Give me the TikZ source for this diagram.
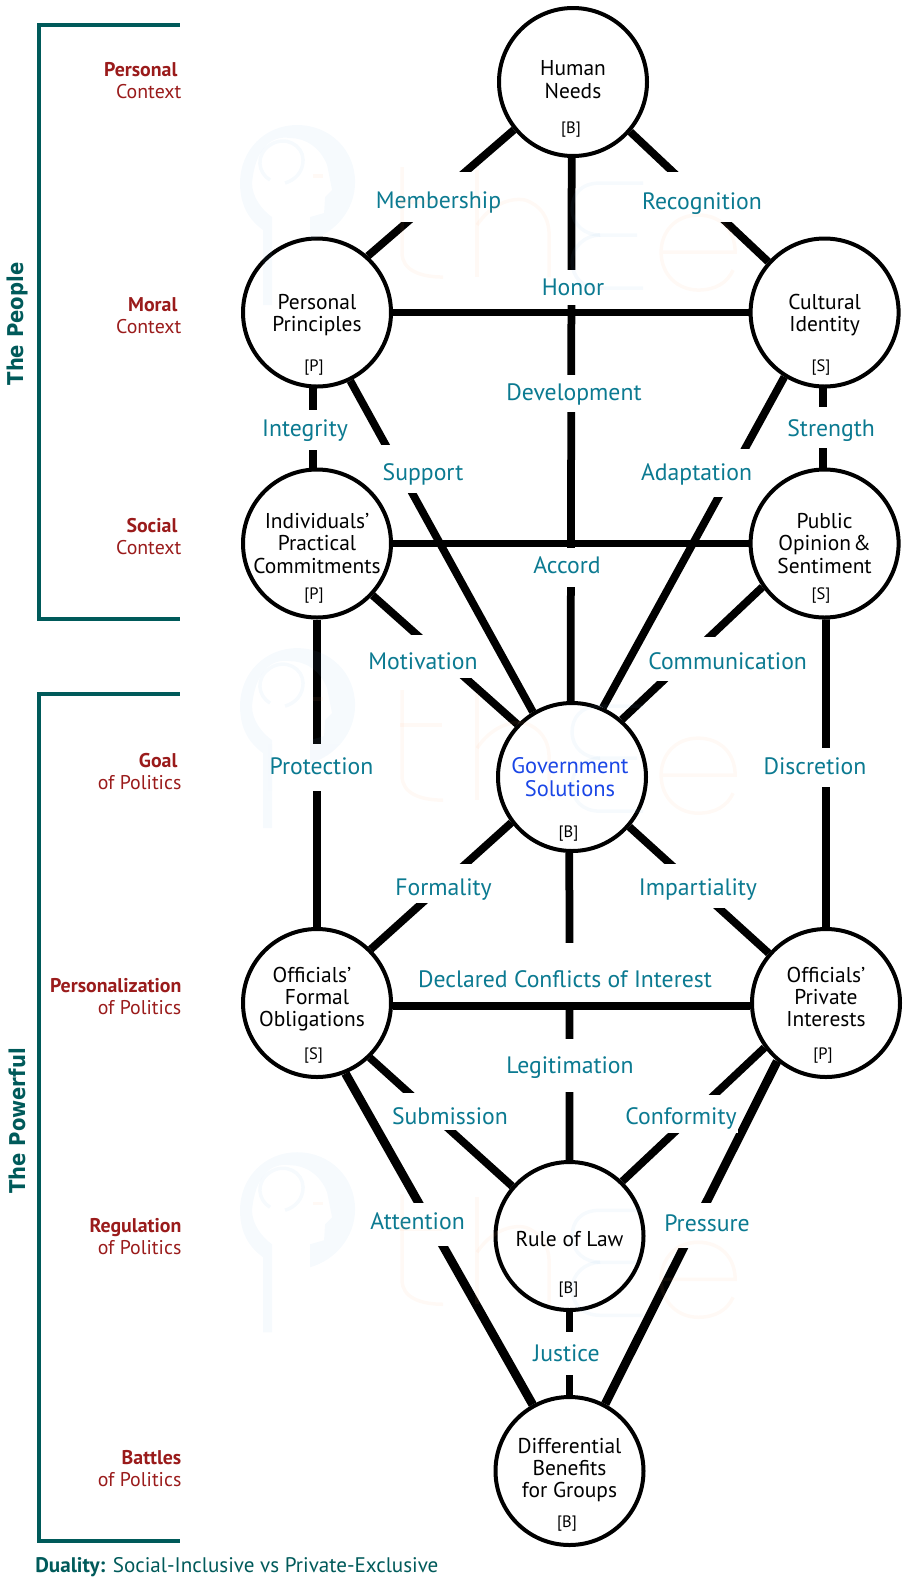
\documentclass[tikz,border=0pt]{standalone}
\usepackage{fontspec}
\setmainfont{PT Sans}
\newfontfamily\widefont[FakeStretch=0.9]{DejaVu Sans}
\usepackage{tikz}
\usetikzlibrary{positioning}
\definecolor{linkteal}{HTML}{0B7A91}
\definecolor{sidered}{HTML}{9A1B1B}
\definecolor{darkteal}{HTML}{005A5A}
\definecolor{govblue}{HTML}{1A46E6}
\definecolor{markblue}{HTML}{73AFE1}
\definecolor{markorange}{HTML}{FFA569}
\tikzset{
  idea/.style={draw,circle,line width=0.08cm,minimum size=2.96cm,inner sep=0pt,align=center,
    font=\fontsize{12.2}{12.6}\selectfont},
  tagtext/.style={font=\fontsize{9.4}{10}\selectfont,inner sep=0pt},
  link/.style={line width=0.155cm},
  heavylink/.style={line width=0.175cm},
  linklabel/.style 2 args={fill=white,text=linkteal,inner xsep=1pt,inner ysep=0pt,
    text height=#1,text depth=#2,font=\fontsize{13.5}{16}\selectfont},
  sidelabel/.style={anchor=east,align=right,text=sidered,inner sep=0pt,
    font=\fontsize{11.3}{12.5}\selectfont},
  bracket/.style={draw=darkteal,line width=0.08cm},
  groupname/.style={rotate=90,text=darkteal,inner sep=0pt,font=\widefont\bfseries\fontsize{12.4}{14}\selectfont},
}
\newcommand{\wmark}[1]{%
  \begin{scope}[x=0.02cm,y=-0.02cm,shift={(0,#1)},opacity=0.065,line width=0.07cm]
    \fill[markblue] (263,105) .. controls (245,92) and (240,75) .. (240,58)
      .. controls (240,25) and (265,0) .. (297,0) .. controls (330,0) and (355,25) .. (355,57)
      .. controls (355,85) and (335,108) .. (310,115) -- (310,92) -- (324,88) -- (325,72)
      -- (332,65) -- (327,40) .. controls (320,22) and (305,13) .. (290,13)
      .. controls (270,10) and (255,25) .. (252,58) .. controls (252,72) and (262,85) .. (272,92)
      -- (272,180) -- (263,180) -- cycle;
    \draw[markblue] (270,55) .. controls (258,48) and (255,30) .. (270,20)
      .. controls (285,10) and (303,20) .. (303,35) .. controls (303,47) and (295,55) .. (285,58);
    \draw[markorange] (313,51) -- (323,51);
    \draw[markorange] (402,42) -- (402,128) .. controls (402,145) and (420,152) .. (443,152);
    \draw[markorange] (400,77) -- (442,77);
    \draw[markorange] (477,45) -- (477,152);
    \draw[markorange] (477,100) .. controls (490,80) and (510,72) .. (525,75)
      .. controls (540,80) and (549,92) .. (549,110) -- (549,152);
    \draw[markblue] (643,58) -- (600,58) .. controls (580,58) and (572,70) .. (572,84)
      .. controls (572,100) and (585,110) .. (600,110) -- (637,110);
    \draw[markblue] (600,110) .. controls (585,110) and (572,122) .. (572,136)
      .. controls (572,152) and (582,163) .. (600,163) -- (643,163);
    \draw[markorange] (661,127) -- (735,127) .. controls (735,105) and (720,90) .. (698,90)
      .. controls (675,90) and (661,107) .. (661,127) .. controls (661,150) and (678,165) .. (698,165)
      .. controls (715,165) and (727,158) .. (733,145);
  \end{scope}}
\begin{document}
\begin{tikzpicture}
  \useasboundingbox (0,0) rectangle (18.46,-31.6);
  \node[idea,text depth=0.1cm] (Needs) at (11.46,-1.64) {Human\\[1pt]Needs};
  \node[idea,on grid, below left=4.61cm and 5.12cm of Needs,text height=0.86cm] (Principles) {Personal\\Principles};
  \node[idea,on grid, right=10.152cm of Principles,text height=0.86cm] (Identity) {Cultural\\Identity};
  \node[idea,on grid, below=4.62cm of Principles] (Commitments) {Individuals’\\Practical\\Commitments};
  \node[idea,on grid, right=10.152cm of Commitments] (Opinion) {Public\\Opinion\hspace{0.1em}\&\\Sentiment};
  \node[idea,on grid, below right=4.67cm and 5.1cm of Commitments,text=govblue,font=\fontsize{12.8}{13.3}\selectfont] (Government) {Government\hspace*{0.08cm}\\Solutions\hspace*{0.08cm}};
  \node[idea,on grid, below=9.19cm of Commitments,text depth=0.26cm] (Obligations) {Officials’\hspace*{0.2cm}\\Formal\hspace*{0.2cm}\\Obligations\hspace*{0.2cm}};
  \node[idea,on grid, right=10.18cm of Obligations,text depth=0.26cm] (Interests) {Officials’\\Private\\Interests};
  \node[idea,on grid, below right=4.66cm and 5.05cm of Obligations,text height=0.42cm] (Law) {Rule of Law};
  \node[idea,on grid, below=4.7cm of Law,text depth=0.12cm] (Benefits) {Differential\\Benefits\\for Groups};

  \node[tagtext,on grid, below left=0.95cm and 0.04cm of Needs] (NeedsTag) {[B]};
  \node[tagtext,on grid, below left=1.11cm and 0.06cm of Principles] (PrinciplesTag) {[P]};
  \node[tagtext,on grid, below left=1.11cm and 0.07cm of Identity] (IdentityTag) {[S]};
  \node[tagtext,on grid, below left=1.05cm and 0.06cm of Commitments] (CommitmentsTag) {[P]};
  \node[tagtext,on grid, below left=1.05cm and 0.07cm of Opinion] (OpinionTag) {[S]};
  \node[tagtext,on grid, below left=1.13cm and 0.07cm of Government] (GovernmentTag) {[B]};
  \node[tagtext,on grid, below left=1.06cm and 0.07cm of Obligations] (ObligationsTag) {[S]};
  \node[tagtext,on grid, below left=1.06cm and 0.06cm of Interests] (InterestsTag) {[P]};
  \node[tagtext,on grid, below left=1.08cm and 0.02cm of Law] (LawTag) {[B]};
  \node[tagtext,on grid, below left=1.06cm and 0.05cm of Benefits] (BenefitsTag) {[B]};

  \draw[link] (Needs.219.6) to (Principles.48.4);
  \draw[link] (Needs.-41) to (Identity.138);
  \draw[link] (Needs.-91.5) to (Government.91);
  \draw[link] (Principles) to (Identity);
  \draw[link] (Commitments) to (Opinion);
  \draw[link] (Principles.-93) to (Commitments.93);
  \draw[link] (Identity.-91) to (Opinion.91);
  \draw[link] (Principles.-64) to (Government.121);
  \draw[link] (Identity.238) to (Government.66.8);
  \draw[link] (Commitments.-43.7) to (Government.136.5);
  \draw[link] (Opinion.215) to (Government.49.3);
  \draw[link] (Commitments.south) to (Obligations.north);
  \draw[link] (Opinion.-89) to (Interests.north);
  \draw[link] (Government.217.5) to (Obligations.45.5);
  \draw[link] (Government.-41.9) to (Interests.139.8);
  \draw[link] (Government.-92) to (Law.north);
  \draw[link] (Obligations.-2) to (Interests.182);
  \draw[link] (Obligations.-46.6) to (Law.139.5);
  \draw[link] (Interests.216.4) to (Law.46.5);
  \draw[heavylink] (Obligations.-68) to (Benefits.119);
  \draw[heavylink] (Interests.230.8) to (Benefits.62);
  \draw[link] (Law.south) to (Benefits.north);

  \node[linklabel={0.73cm}{0.27cm},on grid, below left=2.3cm and 2.69cm of Needs] (Membership) {Membership};
  \node[linklabel={0.74cm}{0.26cm},on grid, below right=2.3cm and 2.58cm of Needs] (Recognition) {Recognition};
  \node[linklabel={0.5cm}{0.2cm},on grid, below=4.11cm of Needs] (Honor) {Honor};
  \node[linklabel={0.5cm}{0.24cm},on grid, below right=1.62cm and 5.14cm of Principles] (Development) {Development};
  \node[linklabel={0.53cm}{0.27cm},on grid, below left=2.35cm and 0.24cm of Principles] (Integrity) {Integrity};
  \node[linklabel={0.71cm}{0.25cm},on grid, below right=3.13cm and 2.12cm of Principles] (Support) {Support};
  \node[linklabel={0.58cm}{0.24cm},on grid, below right=2.3cm and 0.13cm of Identity] (Strength) {Strength};
  \node[linklabel={0.63cm}{0.33cm},on grid, below left=3.21cm and 2.56cm of Identity] (Adaptation) {Adaptation};
  \node[linklabel={0.5cm}{0.28cm},on grid, below right=0.48cm and 5cm of Commitments] (Accord) {Accord};
  \node[linklabel={0.68cm}{0.18cm},on grid, below right=2.26cm and 2.12cm of Commitments] (Motivation) {Motivation};
  \node[linklabel={0.65cm}{0.23cm},on grid, below left=2.31cm and 1.94cm of Opinion] (Communication) {Communication};
  \node[linklabel={0.6cm}{0.34cm},on grid, above right=4.71cm and 0.09cm of Obligations] (Protection) {Protection};
  \node[linklabel={0.52cm}{0.26cm},on grid, above left=4.71cm and 0.22cm of Interests] (Discretion) {Discretion};
  \node[linklabel={0.62cm}{0.16cm},on grid, above right=2.39cm and 2.53cm of Obligations] (Formality) {Formality};
  \node[linklabel={0.63cm}{0.25cm},on grid, above left=2.34cm and 2.56cm of Interests] (Impartiality) {Impartiality};
  \node[linklabel={0.88cm}{0.3cm},on grid, above right=0.61cm and 4.96cm of Obligations] (Declared) {Declared Conflicts of Interest};
  \node[linklabel={0.68cm}{0.38cm},on grid, below right=1.25cm and 5.06cm of Obligations] (Legitimation) {Legitimation};
  \node[linklabel={0.62cm}{0.12cm},on grid, below right=2.17cm and 2.66cm of Obligations] (Submission) {Submission};
  \node[linklabel={0.59cm}{0.17cm},on grid, below left=2.22cm and 2.9cm of Interests] (Conformity) {Conformity};
  \node[linklabel={0.52cm}{0.34cm},on grid, above left=0.23cm and 3.04cm of Law] (Attention) {Attention};
  \node[linklabel={0.56cm}{0.34cm},on grid, above right=0.21cm and 2.75cm of Law] (Pressure) {Pressure};
  \node[linklabel={0.58cm}{0.28cm},on grid, below left=2.35cm and 0.06cm of Law] (Justice) {Justice};

  \coordinate (PeopleTop) at (3.59,-0.49);
  \coordinate (PeopleBottom) at (3.59,-12.38);
  \coordinate (PowerfulTop) at (3.59,-13.87);
  \coordinate (PowerfulBottom) at (3.59,-30.82);
  \draw[bracket] (PeopleTop) -| (0.77,-12.38) -- (PeopleBottom);
  \draw[bracket] (PowerfulTop) -| (0.77,-30.82) -- (PowerfulBottom);
  \node[groupname] (ThePeople) at (0.34,-6.48) {The People};
  \node[groupname] (ThePowerful) at (0.34,-22.42) {The Powerful};

  \node[sidelabel] (PersonalSide) at (3.634,-1.61) {\textbf{Personal}\hspace*{0.2em}\\Context};
  \node[sidelabel] (MoralSide) at (3.634,-6.32) {\textbf{Moral}\hspace*{0.2em}\\Context};
  \node[sidelabel] (SocialSide) at (3.634,-10.73) {\textbf{Social}\hspace*{0.2em}\\Context};
  \node[sidelabel] (GoalSide) at (3.634,-15.43) {\textbf{Goal}\hspace*{0.2em}\\of Politics};
  \node[sidelabel] (PersonalizationSide) at (3.634,-19.94) {\textbf{Personalization}\\of Politics};
  \node[sidelabel] (RegulationSide) at (3.634,-24.74) {\textbf{Regulation}\\of Politics};
  \node[sidelabel] (BattlesSide) at (3.634,-29.37) {\textbf{Battles}\\of Politics};
  \node[anchor=west,inner sep=0pt,text=darkteal,font=\fontsize{12}{14}\selectfont] (Duality) at (0.7,-31.34) {\textbf{Duality:} Social-Inclusive vs Private-Exclusive};

  \wmark{125}
  \wmark{648}
  \wmark{1152}
\end{tikzpicture}
\end{document}
